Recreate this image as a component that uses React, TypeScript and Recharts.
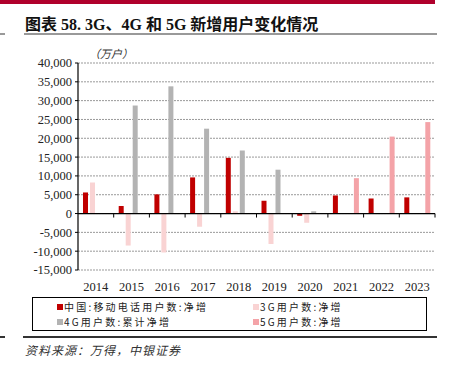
import { BarChart, Bar, XAxis, YAxis, CartesianGrid, ReferenceLine } from "recharts";

const years = ["2014", "2015", "2016", "2017", "2018", "2019", "2020", "2021", "2022", "2023"];
const mobileNet = [5600, 2000, 5100, 9600, 14800, 3400, -600, 4800, 4000, 4300];
const net3G = [8250, -8500, -10350, -3500, 600, -8100, -2450, 0, 0, 0];
const cum4G = [0, 28700, 33800, 22550, 16750, 11650, 600, 0, 0, 0];
const net5G = [0, 0, 0, 0, 0, 0, 0, 9400, 20450, 24300];
const yTicks = [-15000, -10000, -5000, 0, 5000, 10000, 15000, 20000, 25000, 30000, 35000, 40000];

const RED = "#C00000";
const C3G = "#F9D3D3";
const C4G = "#B3B3B3";
const C5G = "#F4A3A8";

const data = years.map((y, i) => ({
  year: y,
  mobile: mobileNet[i],
  g3: net3G[i],
  g4: cum4G[i],
  g5: net5G[i],
}));

const serif = '"Liberation Serif", "Times New Roman", serif';
const cjk = '"Noto Sans CJK SC", sans-serif';

// zero axis drawn as a reference line, with ticks at category boundaries
function ZeroAxis(props: any) {
  const { x1, x2, y1 } = props;
  const n = years.length;
  const step = (x2 - x1) / n;
  const ticks = [];
  for (let i = 1; i <= n; i++) {
    const x = x1 + step * i;
    ticks.push(<line key={i} x1={x} x2={x} y1={y1} y2={y1 + 4} stroke="#000" strokeWidth={1} />);
  }
  return (
    <g>
      <line x1={x1} x2={x2} y1={y1} y2={y1} stroke="#000" strokeWidth={1.2} />
      {ticks}
    </g>
  );
}

const legendItems = [
  { label: "中国:移动电话用户数:净增", color: RED, left: 24, top: 2 },
  { label: "3G用户数:净增", color: C3G, left: 220, top: 2 },
  { label: "4G用户数:累计净增", color: C4G, left: 24, top: 17 },
  { label: "5G用户数:净增", color: C5G, left: 220, top: 17 },
];

export default function App() {
  return (
    <div style={{ position: "fixed", left: 0, top: 0, width: 451, height: 368, background: "#fff" }}>
      <div style={{ position: "absolute", left: 0, top: 0, width: 435, height: 4, background: "#B0002C" }} />
      <div
        style={{
          position: "absolute",
          left: 25,
          top: 11,
          fontFamily: `${serif.split(",")[0]}, ${cjk}`,
          fontWeight: "bold",
          fontSize: 16,
          color: "#111",
          whiteSpace: "nowrap",
        }}
      >
        图表 58. 3G、4G 和 5G 新增用户变化情况
      </div>
      <div style={{ position: "absolute", left: 24, top: 33, width: 413, height: 2, background: "#999" }} />
      <div style={{ position: "absolute", left: 0, top: 33, width: 5, height: 2, background: "#999" }} />

      <div
        style={{
          position: "absolute",
          left: 89,
          top: 45,
          fontFamily: cjk,
          fontStyle: "italic",
          fontSize: 11,
          color: "#333",
          whiteSpace: "nowrap",
        }}
      >
        （万户）
      </div>

      <div style={{ position: "absolute", left: 0, top: 45 }}>
        <BarChart
          width={451}
          height={250}
          data={data}
          margin={{ top: 18, right: 16, left: 0, bottom: 5 }}
          barSize={5}
          barGap={2}
        >
          <CartesianGrid vertical={false} stroke="#999" strokeDasharray="2 1" />
          <XAxis
            dataKey="year"
            axisLine={false}
            tickLine={false}
            height={20}
            tick={{ fontFamily: serif, fontSize: 12.5, fill: "#222" }}
            dy={4}
            interval={0}
          />
          <YAxis
            width={78}
            domain={[-15000, 40000]}
            ticks={yTicks}
            interval={0}
            tickFormatter={(v: number) => v.toLocaleString("en-US")}
            tick={{ fontFamily: serif, fontSize: 12.5, fill: "#222" }}
            axisLine={{ stroke: "#000", strokeWidth: 1.2 }}
            tickLine={{ stroke: "#000" }}
            tickSize={3}
            tickMargin={3}
          />
          <Bar dataKey="mobile" fill={RED} isAnimationActive={false} />
          <Bar dataKey="g3" fill={C3G} isAnimationActive={false} />
          <Bar dataKey="g4" fill={C4G} isAnimationActive={false} />
          <Bar dataKey="g5" fill={C5G} isAnimationActive={false} />
          <ReferenceLine y={0} shape={ZeroAxis} />
        </BarChart>
      </div>

      <div
        style={{
          position: "absolute",
          left: 32,
          top: 297,
          width: 393,
          height: 32,
          border: "1px solid #000",
        }}
      >
        {legendItems.map((it) => (
          <div
            key={it.label}
            style={{
              position: "absolute",
              left: it.left,
              top: it.top,
              display: "flex",
              alignItems: "center",
              fontFamily: cjk,
              fontSize: 10,
              letterSpacing: 2.2,
              color: "#222",
              whiteSpace: "nowrap",
              lineHeight: "13px",
            }}
          >
            <span style={{ display: "inline-block", width: 6, height: 6, background: it.color, marginRight: 1 }} />
            {it.label}
          </div>
        ))}
      </div>

      <div style={{ position: "absolute", left: 23, top: 336, width: 414, height: 1.5, background: "#333" }} />
      <div style={{ position: "absolute", left: 0, top: 336, width: 5, height: 1.5, background: "#333" }} />
      <div
        style={{
          position: "absolute",
          left: 25,
          top: 341,
          fontFamily: cjk,
          fontStyle: "italic",
          fontSize: 12,
          letterSpacing: 1,
          color: "#333",
          whiteSpace: "nowrap",
        }}
      >
        资料来源：万得，中银证券
      </div>
    </div>
  );
}
